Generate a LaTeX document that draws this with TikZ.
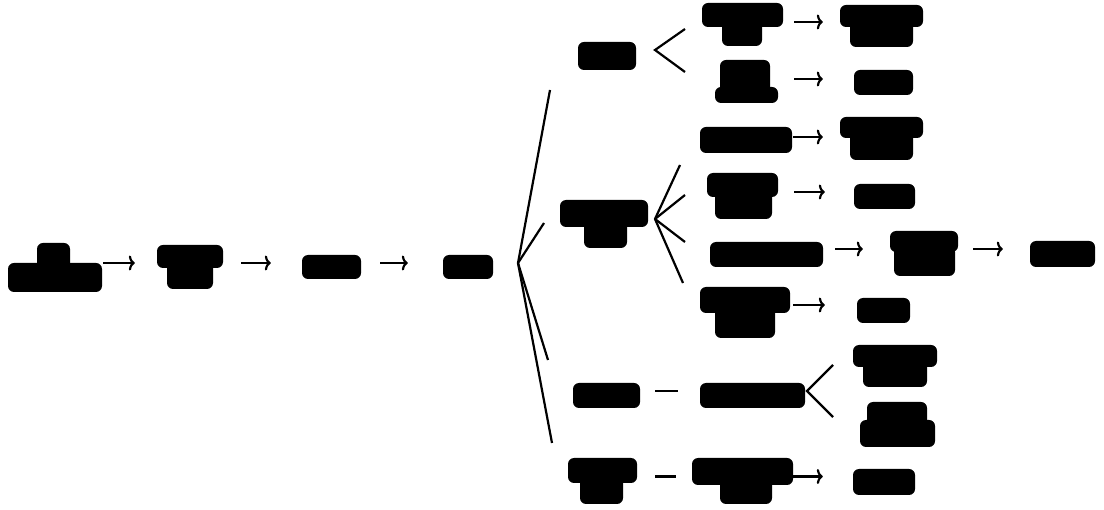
\documentclass[tikz,border=0pt]{standalone}
\usetikzlibrary{arrows.meta,fit}
\begin{document}
\begin{tikzpicture}[x=1pt,y=-1pt,
  blob/.style={fill=black,draw=none,rounded corners=6pt,inner sep=0pt,fit={#1}},
  ln/.style={line width=2.2pt,line cap=butt},
  arr/.style={ln,-{To[length=6pt,width=15pt]}}]
\fill[white] (0,0) rectangle (1104,510);
\useasboundingbox (0,0) rectangle (1104,510);
% rows
\coordinate (row0) at (0,263);
\coordinate (rGa) at (0,22);
\coordinate (rGb) at (0,79);
\coordinate (rH) at (0,137);
\coordinate (rK1) at (0,192);
\coordinate (rK2) at (0,249);
\coordinate (rK3) at (0,305);
\coordinate (rO) at (0,391);
\coordinate (rP) at (0,476.5);
% main chain
\node[blob={(37,243) (70,269)}] (A1) {};
\node[blob={(8,263) (102,292)}] (A2) {};
\node[blob={(157,245) (223,268)}] (B1) {};
\node[blob={(167,262) (213,289)}] (B2) {};
\node[blob={(302,255) (361,279)}] (C) {};
\node[blob={(443,255) (493,279)}] (D) {};
% group G
\node[blob={(578,42) (636,70)}] (G) {};
\node[blob={(702,3) (783,27)}] (Ga1) {};
\node[blob={(722,21) (762,46)}] (Ga2) {};
\node[blob={(840,5) (923,27)}] (Gaa1) {};
\node[blob={(850,21) (913,47)}] (Gaa2) {};
\node[blob={(720,60) (770,93)}] (Gb1) {};
\node[blob={(715,87) (778,103)}] (Gb2) {};
\node[blob={(854,70) (913,95)}] (Gbb) {};
\node[blob={(700,127) (792,153)}] (H) {};
\node[blob={(840,117) (923,138)}] (Hh1) {};
\node[blob={(850,132) (913,160)}] (Hh2) {};
% group F
\node[blob={(560,200) (648,227)}] (Fa) {};
\node[blob={(584,221) (627,248)}] (Fb) {};
\node[blob={(707,173) (778,197)}] (K1a) {};
\node[blob={(715,191) (772,219)}] (K1b) {};
\node[blob={(854,184) (915,209)}] (K1r) {};
\node[blob={(710,242) (823,267)}] (K2) {};
\node[blob={(890,231) (958,252)}] (K2ra) {};
\node[blob={(894,246) (955,276)}] (K2rb) {};
\node[blob={(1030,241) (1095,267)}] (K2rr) {};
\node[blob={(700,287) (790,313)}] (K3a) {};
\node[blob={(715,307) (775,338)}] (K3b) {};
\node[blob={(857,298) (910,323)}] (K3r) {};
% group O
\node[blob={(573,383) (640,408)}] (O) {};
\node[blob={(700,383) (805,408)}] (Oc) {};
\node[blob={(853,345) (937,367)}] (Oca1) {};
\node[blob={(863,361) (927,387)}] (Oca2) {};
\node[blob={(867,402) (927,426)}] (Ocb1) {};
\node[blob={(860,420) (935,447)}] (Ocb2) {};
% group P
\node[blob={(568,458) (637,483)}] (Pa) {};
\node[blob={(580,477) (623,504)}] (Pb) {};
\node[blob={(692,458) (793,485)}] (Qa) {};
\node[blob={(720,479) (772,504)}] (Qb) {};
\node[blob={(853,469) (915,495)}] (Qr) {};
% fan points
\coordinate (dfan) at (518,263);
\coordinate (d1) at (550,90);
\coordinate (d2) at (544,223);
\coordinate (d3) at (548,360);
\coordinate (d4) at (552,443);
\coordinate (gfan) at (655,50);
\coordinate (gu) at (685,29);
\coordinate (gd) at (685,72);
\coordinate (ffan) at (655,219);
\coordinate (f1) at (680,165);
\coordinate (f2) at (685,195);
\coordinate (f3) at (685,242);
\coordinate (f4) at (683,283);
\coordinate (ofan) at (807,391);
\coordinate (ou) at (833,365);
\coordinate (od) at (833,417);
% main arrows
\draw[arr,shorten <=1pt,shorten >=22pt] (A2.east|-row0) -- (B1.west|-row0);
\draw[arr,shorten <=18pt,shorten >=31pt] (B1.east|-row0) -- (C.west|-row0);
\draw[arr,shorten <=19pt,shorten >=35pt] (C.east|-row0) -- (D.west|-row0);
% fans
\draw[ln,line join=miter] (d1) -- (dfan) -- (d4);
\draw[ln] (dfan) -- (d2);
\draw[ln] (dfan) -- (d3);
\draw[ln] (gu) -- (gfan) -- (gd);
\draw[ln] (f1) -- (ffan) -- (f4);
\draw[ln] (ffan) -- (f2);
\draw[ln] (ffan) -- (f3);
\draw[ln] (ou) -- (ofan) -- (od);
% child arrows
\draw[arr,shorten <=11pt,shorten >=17pt] (Ga1.east|-rGa) -- (Gaa1.west|-rGa);
\draw[arr,shorten <=16pt,shorten >=31pt] (Gb2.east|-rGb) -- (Gbb.west|-rGb);
\draw[arr,shorten <=1pt,shorten >=17pt] (H.east|-rH) -- (Hh1.west|-rH);
\draw[arr,shorten <=16pt,shorten >=29pt] (K1a.east|-rK1) -- (K1r.west|-rK1);
\draw[arr,shorten <=12pt,shorten >=27pt] (K2.east|-rK2) -- (K2ra.west|-rK2);
\draw[arr,shorten <=15pt,shorten >=27pt] (K2ra.east|-rK2) -- (K2rr.west|-rK2);
\draw[arr,shorten <=3pt,shorten >=32pt] (K3a.east|-rK3) -- (K3r.west|-rK3);
\draw[ln,shorten <=15pt,shorten >=22pt] (O.east|-rO) -- (Oc.west|-rO);
\draw[ln,shorten <=18pt,shorten >=16pt] (Pa.east|-rP) -- (Qa.west|-rP);
\draw[arr,shorten >=30pt] (Qa.east|-rP) -- (Qr.west|-rP);
\end{tikzpicture}
\end{document}
